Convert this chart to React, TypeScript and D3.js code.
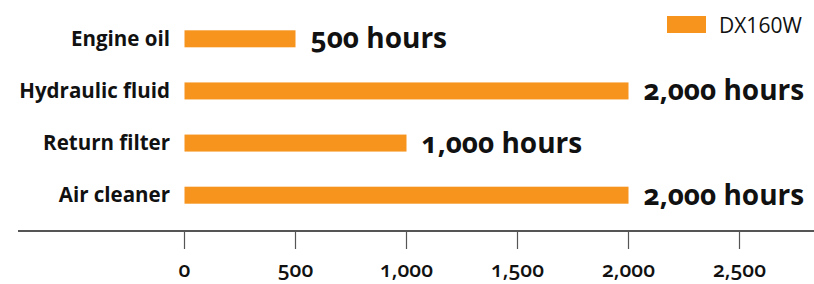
import { useMemo } from "react";
import * as d3 from "d3";

const WIDTH = 814;
const HEIGHT = 284;
const MARGIN = { top: 13, right: 0, bottom: 53, left: 184.5 };

const CATEGORIES = ["Engine oil", "Hydraulic fluid", "Return filter", "Air cleaner"];
const HOURS = [500, 2000, 1000, 2000];
const VALUE_LABELS = ["500 hours", "2,000 hours", "1,000 hours", "2,000 hours"];
const X_TICKS = [0, 500, 1000, 1500, 2000, 2500];
const SERIES_NAME = "DX160W";

const BAR_COLOR = "#f7941e";
const FONT = "'Open Sans', Lato, sans-serif";

export default function App() {
  const x = useMemo(
    () => d3.scaleLinear().domain([0, 2000]).range([MARGIN.left, 628.5]),
    [],
  );
  const y = useMemo(
    () =>
      d3
        .scaleBand()
        .domain(CATEGORIES)
        .range([MARGIN.top, 221])
        .paddingInner(0.67)
        .paddingOuter(0.33),
    [],
  );
  const axisY = 231;
  const barH = 17;
  const fmt = d3.format(",");

  return (
    <svg
      width={WIDTH}
      height={HEIGHT}
      style={{ position: "absolute", left: 0, top: 0, background: "#fff", fontVariantNumeric: "oldstyle-nums" }}
      fontFamily={FONT}
    >
      {CATEGORIES.map((cat, i) => {
        const cy = (y(cat) ?? 0) + y.bandwidth() / 2;
        return (
          <g key={cat}>
            <text
              x={170}
              y={cy}
              dy="0.33em"
              textAnchor="end"
              fontSize={20.5}
              fontWeight={700}
              fill="#111"
            >
              {cat}
            </text>
            <rect
              x={x(0)}
              y={cy - barH / 2}
              width={x(HOURS[i]) - x(0)}
              height={barH}
              fill={BAR_COLOR}
            />
            <text
              x={x(HOURS[i]) + 15}
              y={cy}
              dy="0.34em"
              fontSize={28}
              fontWeight={700}
              fill="#111"
            >
              {VALUE_LABELS[i]}
            </text>
          </g>
        );
      })}

      <line x1={18} x2={WIDTH} y1={axisY} y2={axisY} stroke="#555" strokeWidth={2} />
      {X_TICKS.map((t) => (
        <g key={t}>
          <line x1={x(t)} x2={x(t)} y1={axisY} y2={249} stroke="#555" strokeWidth={1.2} />
          <text
            x={x(t)}
            y={277}
            textAnchor="middle"
            fontSize={21}
            fontWeight={600}
            fill="#111"
          >
            {fmt(t)}
          </text>
        </g>
      ))}

      <rect x={667} y={16} width={39} height={17} fill={BAR_COLOR} />
      <text
        x={719}
        y={32.5}
        fontSize={21}
        fill="#111"
        style={{ fontVariantNumeric: "lining-nums" }}
      >
        {SERIES_NAME}
      </text>
    </svg>
  );
}
